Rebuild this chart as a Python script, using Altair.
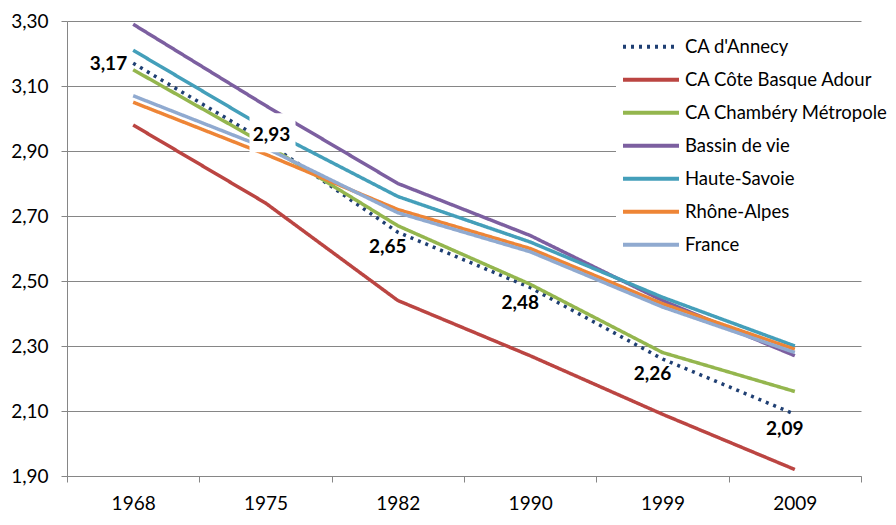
import altair as alt
import pandas as pd

years = ["1968", "1975", "1982", "1990", "1999", "2009"]
series = ["CA d'Annecy", "CA Côte Basque Adour", "CA Chambéry Métropole",
          "Bassin de vie", "Haute-Savoie", "Rhône-Alpes", "France"]

annecy = [3.17, 2.93, 2.65, 2.48, 2.26, 2.09]
cote_basque = [2.98, 2.74, 2.44, 2.27, 2.09, 1.92]
chambery = [3.15, 2.92, 2.67, 2.49, 2.28, 2.16]
bassin = [3.29, 3.04, 2.80, 2.64, 2.44, 2.27]
haute_savoie = [3.21, 2.97, 2.76, 2.62, 2.45, 2.30]
rhone_alpes = [3.05, 2.89, 2.72, 2.60, 2.43, 2.29]
france = [3.07, 2.91, 2.71, 2.59, 2.42, 2.28]

y_ticks = [1.9, 2.1, 2.3, 2.5, 2.7, 2.9, 3.1, 3.3]

colors = ["#1F3F73", "#BB4542", "#94B64E", "#7C5FA0", "#449FBA", "#EE8536", "#90AAD0"]
dashes = [[3, 5], [1, 0], [1, 0], [1, 0], [1, 0], [1, 0], [1, 0]]

all_vals = [annecy, cote_basque, chambery, bassin, haute_savoie, rhone_alpes, france]
rows = []
for name, vals in zip(series, all_vals):
    for yr, v in zip(years, vals):
        rows.append({"annee": yr, "serie": name, "valeur": v})
df = pd.DataFrame(rows)
ann_df = pd.DataFrame({"annee": years, "valeur": annecy})

FONT = "Lato"
GRID = "#868686"

x_enc = alt.X(
    "annee:O", sort=years, bandPosition=0.5,
    scale=alt.Scale(type="band", paddingInner=0, paddingOuter=0),
    axis=alt.Axis(title=None, labelAngle=0, labelFont=FONT, labelFontSize=19,
                  labelColor="#000000", domainColor=GRID, tickColor=GRID,
                  tickSize=6, tickBand="extent", labelPadding=12, grid=False),
)
y_enc = alt.Y(
    "valeur:Q",
    scale=alt.Scale(domain=[1.9, 3.3], nice=False, zero=False),
    axis=alt.Axis(title=None, values=y_ticks,
                  labelExpr="replace(format(datum.value, '.2f'), '.', ',')",
                  labelFont=FONT, labelFontSize=19, labelColor="#000000",
                  domainColor=GRID, tickColor=GRID, tickSize=6, labelPadding=13,
                  grid=True, gridColor=GRID, gridWidth=1),
)

leg = alt.Legend(
    title=None, orient="none", legendX=549, legendY=4.5,
    symbolType="stroke", symbolSize=3136, symbolStrokeWidth=4,
    clipHeight=32.5, rowPadding=0, labelOffset=4, labelLimit=320,
    labelFont=FONT, labelFontSize=18.5, labelColor="#000000",
    fillColor="#FFFFFF", padding=5,
)

lines = alt.Chart(df).mark_line(strokeWidth=3.5).encode(
    x=x_enc, y=y_enc,
    color=alt.Color("serie:N", scale=alt.Scale(domain=series, range=colors), legend=leg),
    strokeDash=alt.StrokeDash("serie:N", scale=alt.Scale(domain=series, range=dashes), legend=leg),
)

lab_base = alt.Chart(ann_df).transform_calculate(
    label="replace(format(datum.valeur, '.2f'), '.', ',')"
).encode(x=alt.X("annee:O", sort=years, bandPosition=0.5), y="valeur:Q")

txt = dict(font=FONT, fontSize=19, fontWeight="bold", color="#000000")

lab_first = lab_base.transform_filter(alt.datum.annee == "1968").mark_text(
    align="right", baseline="middle", dx=-6, dy=1, **txt).encode(text="label:N")

box = lab_base.transform_filter(alt.datum.annee == "1975").mark_point(
    shape="M-1.18,-1L1.18,-1L1.18,1L-1.18,1Z", filled=True, color="#FFFFFF",
    opacity=1, size=1521, strokeWidth=0, xOffset=7, yOffset=-8.5)

lab_mid = lab_base.transform_filter(alt.datum.annee == "1975").mark_text(
    align="center", baseline="middle", dx=6, dy=-6, **txt).encode(text="label:N")

lab_low = lab_base.transform_filter(
    (alt.datum.annee != "1968") & (alt.datum.annee != "1975")
).mark_text(align="center", baseline="middle", dx=-10, dy=15, **txt).encode(text="label:N")

chart = alt.layer(lines, box, lab_first, lab_mid, lab_low).properties(
    width=794, height=455,
    padding={"left": 59, "top": 13, "right": 27, "bottom": 39},
    autosize=alt.AutoSizeParams(type="none"),
).configure_view(stroke=None)

chart.save("out.html", embed_options={"renderer": "svg", "actions": False})
